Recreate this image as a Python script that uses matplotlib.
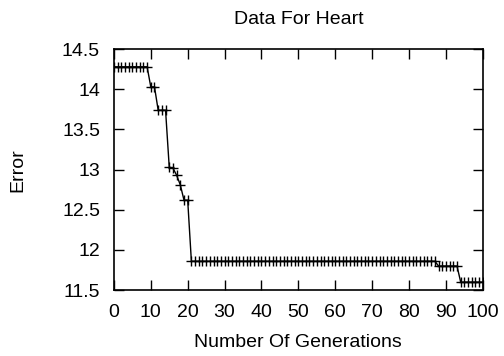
import numpy as np
import matplotlib.pyplot as plt

plt.rcParams['font.family'] = ['Liberation Sans', 'DejaVu Sans']

# error level per stretch of generations
levels = [14.28, 14.03, 13.74, 13.03, 13.02, 12.93, 12.81, 12.62, 11.86, 11.80, 11.60]
counts = [10, 2, 3, 1, 1, 1, 1, 2, 67, 6, 7]

generations = np.arange(sum(counts))
error = np.repeat(levels, counts)

fig = plt.figure(figsize=(5.04, 3.56), dpi=100)
ax = fig.add_axes([0.226, 0.185, 0.732, 0.677])

ax.plot(generations, error, color='black', linewidth=1, marker='+',
        markersize=7.5, markeredgewidth=1)

ax.set_xlim(0, 100)
ax.set_ylim(11.5, 14.5)
ax.set_xticks(np.arange(0, 101, 10))
ax.set_yticks([11.5, 12, 12.5, 13, 13.5, 14, 14.5])
ax.set_yticklabels(['11.5', '12', '12.5', '13', '13.5', '14', '14.5'])
ax.tick_params(direction='in', length=7, width=1, top=True, right=True,
               labelsize=14)
ax.tick_params(axis='y', pad=10)
ax.tick_params(axis='x', pad=10)
for s in ax.spines.values():
    s.set_linewidth(1.2)

ax.set_title('Data For Heart', fontsize=14, pad=18)
ax.set_xlabel('Number Of Generations', fontsize=14)
ax.set_ylabel('Error', fontsize=14)
ax.xaxis.set_label_coords(0.5, -0.183)
ax.yaxis.set_label_coords(-0.237, 0.5)

fig.savefig('out.png', dpi=100)
